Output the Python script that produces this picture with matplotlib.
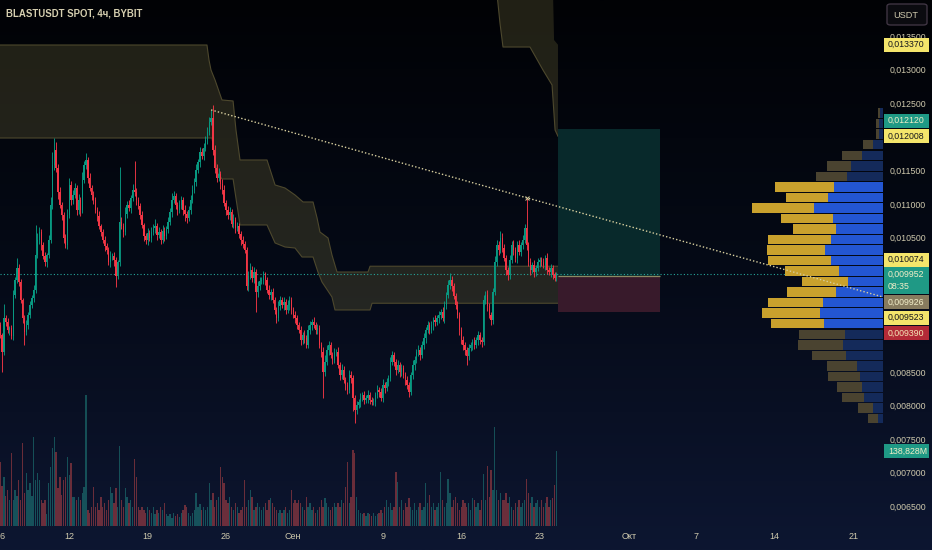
import numpy as np
import pandas as pd
import matplotlib
matplotlib.use("Agg")
import matplotlib.pyplot as plt
from matplotlib.patches import Rectangle, FancyBboxPatch
from matplotlib.colors import LinearSegmentedColormap
from matplotlib.ticker import FuncFormatter

plt.rcParams['font.family'] = ['Liberation Sans', 'DejaVu Sans']

# ---------------- data ----------------
BASE = pd.Timestamp("2024-08-06")
first_bar = "2024-08-05 20:00"      # 4h candles
open_first = 9200                   # price * 1e6

# closes, price * 1e6
closes = [
    9051, 8798, 9304, 9245, 9126, 9155, 9036, 9646, 9870, 10048,
    9840, 9572, 9304, 9096, 9200, 9349, 9498, 9602, 9721, 10242,
    10465, 10584, 10390, 10227, 10137, 10242, 10465, 10986, 11581, 11804,
    11536, 11179, 10986, 10837, 10495, 10390, 10837, 11283, 11060, 11134,
    11239, 10911, 11060, 10911, 11358, 11581, 11655, 11387, 11239, 11134,
    11060, 10911, 10822, 10673, 10584, 10465, 10376, 10316, 10137, 10227,
    10227, 10167, 9929, 10137, 10733, 10673, 10584, 10852, 10986, 10941,
    11090, 11209, 11179, 11060, 10971, 10837, 10688, 10524, 10465, 10569,
    10495, 10584, 10643, 10673, 10539, 10584, 10465, 10599, 10524, 10628,
    10733, 10881, 11060, 11120, 10986, 10911, 10986, 11060, 10911, 10852,
    10792, 10911, 11060, 11209, 11328, 11506, 11625, 11774, 11715, 11834,
    11953, 12072, 12221, 12280, 11804, 11536, 11387, 11447, 11298, 11209,
    11015, 10911, 10837, 10881, 10703, 10762, 10643, 10673, 10554, 10465,
    10405, 10316, 9780, 9929, 10018, 9899, 9989, 9691, 9780, 9855,
    9870, 9929, 9870, 9721, 9646, 9691, 9572, 9423, 9304, 9483,
    9572, 9498, 9542, 9423, 9498, 9572, 9423, 9349, 9304, 9200,
    9126, 8977, 9051, 9007, 8902, 9126, 9200, 9245, 9200, 9126,
    9155, 8902, 8798, 8501, 8649, 8828, 8902, 8754, 8679, 8798,
    8798, 8605, 8456, 8530, 8382, 8307, 8233, 8456, 8411, 8114,
    7935, 8010, 8054, 8114, 8158, 8084, 8114, 8158, 8084, 8054,
    8054, 8158, 8233, 8203, 8114, 8307, 8263, 8352, 8411, 8649,
    8754, 8649, 8530, 8605, 8501, 8560, 8456, 8382, 8307, 8203,
    8456, 8605, 8679, 8798, 8828, 8754, 8902, 9007, 9126, 9200,
    9126, 9200, 9274, 9245, 9304, 9349, 9393, 9304, 9498, 9646,
    9795, 9870, 9780, 9632, 9498, 9349, 9126, 8977, 8902, 8828,
    8739, 8858, 8902, 8947, 8902, 8977, 9051, 8977, 8947, 9572,
    9646, 9483, 9349, 9274, 9691, 10137, 10390, 10316, 10495, 10346,
    10197, 10018, 9944, 10167, 10390, 10316, 10197, 10390, 10286, 10390,
    10465, 10643, 10390, 10137, 10018, 10093, 9989, 10048, 10137, 10167,
    10137, 10093, 10197, 10018, 9989, 10048, 9944, 9899, 9952,
]

# wick lengths above / below the body, price * 1e5
upper_wick = [
    4, 3, 21, 5, 6, 3, 4, 8, 5, 15,
    6, 4, 3, 5, 7, 4, 6, 5, 8, 45,
    10, 8, 5, 4, 6, 3, 7, 12, 20, 18,
    12, 6, 8, 5, 4, 6, 9, 10, 6, 8,
    7, 5, 9, 4, 12, 6, 10, 5, 7, 4,
    6, 5, 4, 7, 3, 5, 6, 4, 5, 8,
    5, 6, 4, 3, 82, 8, 5, 10, 6, 7,
    5, 9, 43, 6, 5, 4, 6, 3, 5, 7,
    4, 8, 6, 10, 5, 7, 4, 9, 6, 5,
    8, 6, 10, 7, 5, 4, 8, 6, 5, 7,
    5, 6, 8, 7, 6, 9, 5, 8, 6, 7,
    6, 8, 7, 12, 20, 8, 6, 9, 5, 7,
    8, 5, 6, 7, 4, 9, 5, 6, 4, 5,
    6, 4, 5, 8, 10, 6, 7, 5, 8, 6,
    5, 7, 6, 4, 8, 5, 6, 4, 5, 7,
    6, 4, 8, 5, 7, 6, 5, 4, 6, 5,
    4, 6, 5, 7, 4, 8, 6, 5, 7, 4,
    6, 5, 4, 7, 10, 8, 6, 5, 4, 6,
    5, 7, 4, 9, 6, 5, 4, 8, 6, 5,
    4, 6, 5, 7, 4, 6, 5, 8, 4, 5,
    6, 5, 7, 4, 6, 9, 5, 6, 4, 8,
    6, 5, 4, 7, 5, 6, 4, 5, 6, 4,
    5, 7, 6, 4, 8, 5, 6, 7, 5, 6,
    5, 6, 4, 7, 5, 6, 4, 8, 6, 5,
    7, 11, 6, 5, 4, 6, 5, 4, 6, 5,
    4, 6, 5, 4, 7, 5, 6, 5, 4, 8,
    6, 8, 5, 4, 6, 9, 8, 6, 10, 7,
    6, 5, 4, 8, 6, 7, 5, 6, 8, 5,
    7, 6, 45, 5, 6, 4, 7, 5, 6, 4,
    5, 6, 4, 7, 5, 6, 4, 5, 3,
]
lower_wick = [
    5, 30, 4, 6, 5, 7, 4, 6, 5, 4,
    6, 5, 7, 19, 5, 6, 4, 5, 6, 4,
    5, 6, 8, 5, 6, 7, 5, 4, 6, 8,
    6, 10, 5, 7, 8, 4, 6, 5, 7, 6,
    5, 8, 6, 9, 5, 4, 6, 7, 5, 8,
    6, 5, 7, 4, 6, 5, 8, 6, 5, 7,
    6, 9, 16, 5, 6, 5, 7, 4, 6, 5,
    7, 5, 6, 8, 4, 6, 5, 7, 6, 8,
    5, 6, 4, 7, 8, 5, 6, 4, 7, 5,
    6, 5, 8, 4, 6, 7, 5, 6, 8, 10,
    7, 5, 6, 4, 5, 6, 5, 7, 4, 6,
    5, 6, 4, 5, 7, 8, 6, 5, 7, 6,
    5, 7, 6, 8, 5, 6, 7, 5, 6, 8,
    6, 5, 6, 7, 5, 6, 8, 30, 7, 6,
    5, 6, 8, 4, 6, 7, 5, 6, 7, 5,
    6, 5, 7, 6, 4, 8, 6, 5, 7, 6,
    5, 7, 6, 8, 5, 4, 6, 7, 5, 6,
    6, 5, 7, 39, 6, 5, 7, 4, 6, 5,
    6, 5, 7, 6, 5, 8, 6, 5, 7, 20,
    19, 6, 5, 7, 4, 6, 5, 7, 6, 5,
    5, 6, 4, 7, 5, 6, 8, 5, 6, 4,
    5, 6, 7, 5, 8, 6, 5, 7, 6, 7,
    5, 6, 7, 5, 6, 8, 5, 6, 7, 5,
    6, 5, 7, 6, 5, 8, 6, 5, 7, 6,
    5, 6, 7, 5, 6, 5, 7, 6, 8, 7,
    13, 6, 5, 7, 6, 5, 8, 6, 7, 5,
    6, 8, 5, 7, 6, 5, 6, 7, 5, 6,
    5, 7, 8, 6, 5, 7, 6, 8, 5, 6,
    6, 5, 7, 6, 8, 5, 7, 6, 5, 7,
    6, 5, 7, 6, 5, 8, 6, 5, 4,
]

# volume, millions
volumes = [
    118, 74, 91, 56, 67, 48, 135, 48, 67, 56,
    85, 48, 154, 61, 98, 67, 80, 56, 165, 85,
    98, 85, 48, 43, 48, 22, 80, 109, 144, 165,
    137, 70, 91, 57, 85, 91, 128, 94, 117, 54,
    54, 48, 54, 48, 61, 72, 242, 30, 24, 35,
    72, 35, 43, 30, 54, 35, 43, 30, 48, 72,
    61, 43, 70, 35, 148, 48, 35, 70, 54, 43,
    48, 35, 124, 91, 35, 30, 35, 30, 24, 35,
    30, 24, 35, 22, 30, 24, 35, 30, 43, 22,
    18, 22, 15, 24, 18, 22, 17, 24, 30, 39,
    35, 24, 18, 24, 30, 61, 35, 41, 30, 35,
    30, 35, 80, 48, 61, 35, 48, 54, 109, 91,
    80, 48, 43, 54, 35, 30, 43, 35, 24, 30,
    35, 85, 35, 48, 67, 54, 30, 35, 43, 35,
    30, 35, 43, 30, 48, 52, 43, 35, 30, 24,
    30, 24, 30, 35, 24, 30, 67, 43, 48, 43,
    48, 43, 35, 30, 54, 35, 43, 30, 35, 24,
    30, 35, 48, 35, 52, 43, 35, 30, 35, 43,
    35, 43, 35, 48, 43, 72, 118, 43, 54, 141,
    135, 54, 30, 24, 22, 24, 18, 24, 22, 18,
    24, 18, 22, 24, 30, 24, 35, 48, 35, 43,
    30, 35, 100, 81, 35, 48, 30, 43, 35, 52,
    35, 30, 43, 30, 35, 43, 30, 35, 80, 43,
    57, 35, 43, 30, 35, 43, 100, 48, 35, 43,
    87, 61, 35, 48, 54, 43, 30, 35, 48, 43,
    35, 43, 30, 52, 48, 35, 43, 30, 48, 96,
    48, 111, 54, 104, 67, 183, 67, 48, 61, 48,
    48, 61, 43, 54, 35, 30, 43, 35, 48, 35,
    43, 48, 87, 61, 43, 54, 35, 43, 48, 35,
    48, 35, 43, 54, 35, 48, 52, 76, 138.828,
]

tick_dates = ["2024-08-06", "2024-08-12", "2024-08-19", "2024-08-26", "2024-09-01",
              "2024-09-09", "2024-09-16", "2024-09-23", "2024-10-01", "2024-10-07",
              "2024-10-14", "2024-10-21"]
tick_labels = ["6", "12", "19", "26", "Сен", "9", "16", "23", "Окт", "7", "14", "21"]

# trailing band (days since Aug 6, price)
band_top_x = [-0.18, 18.30, 18.48, 18.66, 19.02, 19.64, 20.63, 20.89, 21.25, 23.66, 24.38,
              25.27, 26.16, 26.88, 27.77, 28.13, 28.39, 29.11, 29.46, 29.91, 32.68, 32.86, 49.64]
band_top_p = [0.013366, 0.013366, 0.013143, 0.012994, 0.012845, 0.012548, 0.012533, 0.012101,
              0.011655, 0.011655, 0.011283, 0.011238, 0.011134, 0.011030, 0.011030, 0.010792,
              0.010583, 0.010494, 0.010241, 0.009988, 0.009988, 0.010074, 0.010074]
band_bot_x = [-0.18, 18.75, 19.20, 19.64, 20.63, 21.25, 23.66, 24.38, 25.27, 26.16, 26.79,
              27.77, 28.21, 28.57, 29.46, 29.73, 32.86, 33.04, 49.64]
band_bot_p = [0.011982, 0.011982, 0.011476, 0.011372, 0.011372, 0.010688, 0.010688, 0.010420,
              0.010360, 0.010345, 0.010211, 0.010211, 0.009988, 0.009839, 0.009616, 0.009423,
              0.009423, 0.009523, 0.009523]
# upper band that starts late in September
band2_top_x = [44.20, 49.20, 49.29, 49.64]
band2_top_p = [0.01412, 0.01412, 0.013440, 0.013370]
band2_bot_x = [44.20, 44.46, 44.73, 47.14, 48.30, 49.11, 49.38, 49.64]
band2_bot_p = [0.01412, 0.013693, 0.013336, 0.013336, 0.012994, 0.012771, 0.012101, 0.012008]

# long position tool
pos_x0, pos_x1 = 49.64, 58.75
entry, take_profit, stop_loss = 0.009926, 0.012120, 0.009390

# trendline through two candle highs
trend_idx = (113, 282)

# visible range volume profile (top row first)
vp_top, vp_bottom = 0.01243, 0.00773
vp_down = [2, 3, 3, 10, 20, 24, 31, 59, 42, 62, 52, 43, 63, 58, 63, 54, 46, 49, 55, 58,
           53, 46, 45, 34, 30, 32, 25, 22, 15, 10]
vp_up = [3, 4, 4, 10, 21, 32, 36, 49, 55, 69, 50, 47, 52, 58, 52, 44, 35, 47, 60, 63,
         59, 38, 40, 37, 26, 23, 21, 19, 10, 5]
va_first, va_last = 7, 20

# price tags on the scale: price, face, text colour
tags = [
    (0.013370, '#f4e56b', '#15161c'),
    (0.012120, '#1f9985', '#f2eec8'),
    (0.012008, '#f4e56b', '#15161c'),
    (0.010074, '#f4e56b', '#15161c'),
    (0.009926, '#877b5e', '#f2eec8'),
    (0.009523, '#f4e56b', '#15161c'),
    (0.009390, '#b32a37', '#f5e9b8'),
]
countdown = "08:35"

# ---------------- figure ----------------
W, H = 932, 550
fig = plt.figure(figsize=(W / 100, H / 100), dpi=100)

bg = fig.add_axes([0, 0, 1, 1], zorder=-10)
grad = np.linspace(0, 1, 256).reshape(-1, 1)
cmap_bg = LinearSegmentedColormap.from_list("bg", ["#010205", "#050a17", "#0d1631"])
bg.imshow(grad, aspect='auto', cmap=cmap_bg, extent=[0, 1, 1, 0])
bg.axis('off')

rect = [0, (H - 526) / H, 883 / W, 526 / H]
ax_vol = fig.add_axes(rect, zorder=0)
ax = fig.add_axes(rect, zorder=1, sharex=ax_vol)
for a in (ax_vol, ax):
    a.patch.set_visible(False)
    for s in a.spines.values():
        s.set_visible(False)

times = pd.date_range(first_bar, periods=len(closes), freq="4h")
x = ((times - BASE) / pd.Timedelta(days=1)).to_numpy(dtype=float)
c = np.array(closes) * 1e-6
o = np.r_[open_first, closes[:-1]] * 1e-6
hi = np.maximum(o, c) + np.array(upper_wick) * 1e-5
lo = np.minimum(o, c) - np.array(lower_wick) * 1e-5
up = c >= o

ax.set_xlim(-0.18, 78.66)
ax.set_ylim(0.0062083, 0.0140357)

# volume overlay
vol = np.array(volumes)
ax_vol.bar(x, vol, width=0.12, color=np.where(up, '#26a69a', '#ef5350'), alpha=0.42, linewidth=0)
ax_vol.set_ylim(0, vol.max() / 0.249)
ax_vol.set_yticks([])
ax_vol.tick_params(axis='x', length=0, labelbottom=False)

# bands
band_face, band_edge = '#5c5732', '#4d482d'
ax.fill(np.r_[band_top_x, band_bot_x[::-1]], np.r_[band_top_p, band_bot_p[::-1]],
        color=band_face, alpha=0.36, lw=0, zorder=1)
ax.plot(band_top_x, band_top_p, color=band_edge, lw=0.8, zorder=1)
ax.plot(band_bot_x, band_bot_p, color=band_edge, lw=0.8, zorder=1)
ax.fill(np.r_[band2_top_x, band2_bot_x[::-1]], np.r_[band2_top_p, band2_bot_p[::-1]],
        color=band_face, alpha=0.36, lw=0, zorder=1)
ax.plot(band2_bot_x, band2_bot_p, color=band_edge, lw=0.8, zorder=1)

# position tool
ax.add_patch(Rectangle((pos_x0, entry), pos_x1 - pos_x0, take_profit - entry,
                       facecolor='#08292b', edgecolor='none', zorder=1))
ax.add_patch(Rectangle((pos_x0, stop_loss), pos_x1 - pos_x0, entry - stop_loss,
                       facecolor='#381a2b', edgecolor='none', zorder=1))
ax.hlines(entry, pos_x0, pos_x1, color='#8c8a62', lw=0.9, zorder=2)

# candles
col = np.where(up, '#089981', '#f23645')
ax.vlines(x, lo, hi, colors=col, linewidth=0.65, zorder=3)
ax.bar(x, np.abs(c - o), bottom=np.minimum(o, c), width=0.12, color=col, linewidth=0, zorder=3)

# last price line
ax.axhline(c[-1], color='#26a69a', lw=0.8, ls=(0, (1, 2)), zorder=2)

# axes text
hidden_ticks = []
fmt = lambda v: f"{v:.6f}".replace('.', ',')


def price_fmt(v, pos):
    if any(abs(v - hv) < 1e-9 for hv in hidden_ticks):
        return ""
    return fmt(v)


y_ticks = np.arange(0.0065, 0.01351, 0.0005)
ax.yaxis.tick_right()
ax.set_yticks(y_ticks)
ax.yaxis.set_major_formatter(FuncFormatter(price_fmt))
ax.tick_params(axis='y', length=0, pad=5, labelsize=6.3, labelcolor='#cfc9ad')
tick_x = ((pd.to_datetime(tick_dates) - BASE) / pd.Timedelta(days=1)).to_numpy(dtype=float)
ax.set_xticks(tick_x, tick_labels)
ax.tick_params(axis='x', length=0, pad=4.5, labelsize=6.5, labelcolor='#cfc9ad')

# volume profile
ax_vp = fig.add_axes(rect, zorder=3, sharey=ax)
ax_vp.patch.set_visible(False)
ax_vp.axis('off')
n_rows = len(vp_up)
row_h = (vp_top - vp_bottom) / n_rows
centers = vp_top - (np.arange(n_rows) + 0.5) * row_h
in_va = (np.arange(n_rows) >= va_first) & (np.arange(n_rows) <= va_last)
vp_up_a, vp_down_a = np.array(vp_up), np.array(vp_down)
ax_vp.barh(centers, vp_up_a, left=0, height=row_h * 0.9,
           color=np.where(in_va, '#2356d2', '#142a5a'), linewidth=0)
ax_vp.barh(centers, vp_down_a, left=vp_up_a, height=row_h * 0.9,
           color=np.where(in_va, '#c9a12d', '#4a4330'), linewidth=0)
ax_vp.set_xlim((vp_up_a + vp_down_a).max() / 0.1484, 0)

# trendline on top
ax_top = fig.add_axes(rect, zorder=4, sharex=ax, sharey=ax)
ax_top.patch.set_visible(False)
ax_top.axis('off')
i1, i2 = trend_idx
slope = (hi[i2] - hi[i1]) / (x[i2] - x[i1])
x_end = ax.get_xlim()[1]
ax_top.plot([x[i1], x_end], [hi[i1], hi[i2] + slope * (x_end - x[i2])],
            color='#d8cf9f', lw=1.0, ls=(0, (1, 1.5)))
ax_top.plot(x[i2], hi[i2], marker='x', ms=3.5, mew=0.7, color='#d2c99c')
ax_top.set_xlim(ax.get_xlim())
ax_top.set_ylim(ax.get_ylim())

# title
fig.text(6 / W, 1 - 14 / H, "BLASTUSDT SPOT, 4ч, BYBIT", fontsize=6.9, color='#d6cfb0',
         family=['Liberation Sans Narrow', 'Liberation Sans', 'DejaVu Sans'],
         fontweight='bold', va='center')

# currency button
fig.add_artist(FancyBboxPatch((887 / W, 1 - 25 / H), 40 / W, 21 / H,
                              boxstyle="round,pad=0,rounding_size=0.004",
                              transform=fig.transFigure, facecolor='#0b0b10',
                              edgecolor='#3e3442', lw=1.0, zorder=10))
fig.text(906 / W, 1 - 15 / H, "USDT", fontsize=6.6, color='#cfc9ad', ha='center', va='center', zorder=11)


# price tags
def ypix(a, v):
    return H - a.transData.transform((0, v))[1]


boxes = []


def tag(yc, hpx, face, lines, tcol):
    top = yc - hpx / 2
    boxes.append((top, top + hpx))
    fig.add_artist(Rectangle((884 / W, 1 - (top + hpx) / H), 45 / W, hpx / H, transform=fig.transFigure,
                             facecolor=face, edgecolor='none', zorder=10))
    for k, s in enumerate(lines):
        fig.text(888 / W, 1 - (top + 7 + k * 12.5) / H, s, fontsize=6.3, color=tcol,
                 va='center', ha='left', zorder=11)


step = 15.5
cur_y = ypix(ax, c[-1])
cur_top, cur_bot = cur_y - 7, cur_y + 20
above = sorted([t for t in tags if ypix(ax, t[0]) < cur_y], key=lambda t: -ypix(ax, t[0]))
below = sorted([t for t in tags if ypix(ax, t[0]) >= cur_y], key=lambda t: ypix(ax, t[0]))
limit = cur_top
for p, face, tc in above:
    yc = min(ypix(ax, p), limit - step / 2)
    limit = yc - step / 2
    tag(yc, 14, face, [fmt(p)], tc)
limit = cur_bot
for p, face, tc in below:
    yc = max(ypix(ax, p), limit + step / 2)
    limit = yc + step / 2
    tag(yc, 14, face, [fmt(p)], tc)
tag((cur_top + cur_bot) / 2, cur_bot - cur_top, '#1f9985', [fmt(c[-1]), countdown], '#f2eec8')

vy = ypix(ax_vol, vol[-1])
tag(vy, 14, '#1f9985', [f"{vol[-1]:.3f}".replace('.', ',') + "M"], '#f2eec8')

# scale labels hidden behind a tag are dropped, as on the original scale
for v in y_ticks:
    ly = ypix(ax, v)
    if any(ly + 3 > b0 + 1.5 and ly - 3 < b1 - 1.5 for b0, b1 in boxes):
        hidden_ticks.append(v)

fig.savefig("out.png", dpi=100)
